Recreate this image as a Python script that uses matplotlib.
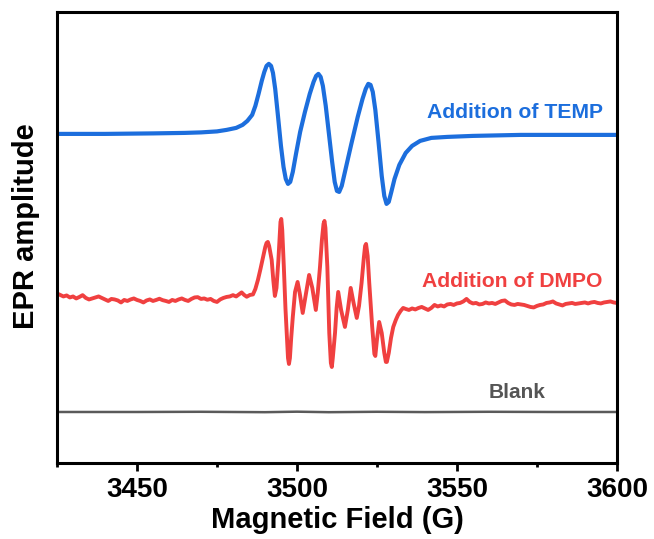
import numpy as np
import matplotlib
matplotlib.use("Agg")
import matplotlib.pyplot as plt
from matplotlib.ticker import MultipleLocator

plt.rcParams["font.family"] = ["Liberation Sans", "DejaVu Sans"]
plt.rcParams["font.weight"] = "bold"

BLUE = "#1c6edd"
RED = "#f04040"
GREY = "#5a5a5a"

# --- TEMP adduct (triplet) ---
temp_field = [3425, 3440, 3455, 3465, 3470, 3475, 3478, 3481, 3483, 3484.5,
              3486, 3487, 3488, 3489, 3489.8, 3490.5, 3491.2, 3491.9, 3492.5, 3493.2,
              3494, 3495, 3495.8, 3496.5, 3497.2, 3497.9, 3498.7, 3499.7, 3501, 3502.5,
              3504, 3505.2, 3506, 3506.7, 3507.4, 3508.1, 3509, 3510, 3511, 3511.8,
              3512.5, 3513.2, 3514, 3515, 3517, 3519, 3520.5, 3521.5, 3522.3, 3523,
              3523.7, 3524.5, 3525.5, 3526.5, 3527.3, 3528, 3528.7, 3529.5, 3530.5, 3532,
              3534, 3536, 3538.5, 3542, 3547, 3555, 3570, 3585, 3600]
temp_amp = [0, 0, 0.5, 1, 1.5, 2.5, 4, 6, 9, 13,
            19, 28, 40, 53, 62, 68, 70, 68, 61, 45,
            20, -12, -33, -45, -50, -48, -38, -20, 2, 22,
            40, 52, 58, 60, 57, 48, 28, 0, -28, -48,
            -57, -58, -52, -38, -10, 17, 35, 45, 50, 49,
            42, 24, -8, -42, -62, -70, -68, -58, -45, -31,
            -19, -12, -7, -4, -3, -2, -1, -1, -1]

# --- DMPO adducts (noisy) ---
dmpo_field = (list(range(3425, 3482)) +
              [3482.7, 3483.5, 3484.3, 3485.3, 3486.25, 3487, 3487.8, 3488.6, 3489.4, 3490.1,
               3490.5, 3490.9, 3491.3, 3492.1, 3492.6, 3493.1, 3493.6, 3494.2, 3494.6, 3494.85,
               3495.1, 3495.4, 3495.9, 3496.4, 3496.8, 3497.2, 3497.5, 3497.8, 3498.2, 3498.7,
               3499.4, 3500.2, 3500.9, 3501.8, 3502.7, 3503.8, 3504.8, 3505.9, 3506.5, 3507.2,
               3507.8, 3508.3, 3508.6, 3508.9, 3509.5, 3510.1, 3510.6, 3510.9, 3511.2, 3511.9,
               3512.4, 3512.9, 3513.8, 3515.0, 3515.9, 3516.8, 3517.7, 3518.7, 3519.4, 3520.2,
               3520.9, 3521.3, 3521.6, 3522.1, 3522.6, 3523.5, 3524.2, 3524.5, 3525.0, 3525.7,
               3526.5, 3527.3, 3527.8, 3528.1, 3528.7, 3529.4, 3530.1, 3530.9, 3531.6, 3532.4,
               3533.2] +
              list(range(3534, 3601)))
dmpo_amp = [4.5, 3.0, 1.5, 2.5, 0.5, 1.5, -0.5, 1.0, 2.8, 0.0,
            -1.5, -0.5, 0.5, 1.5, 0.0, -1.5, -3.0, -1.0, -1.5, -2.5,
            -4.5, -2.0, -3.0, -1.5, -0.5, -2.0, -3.0, -4.5, -2.5, -1.5,
            -3.0, -2.0, -0.8, -2.2, -3.0, -4.0, -2.0, -3.0, -1.5, -0.5,
            -2.0, -3.0, -1.0, 0.5, 0.8, -1.0, -0.5, -1.8, -1.0, -3.0,
            -4.0, -1.5, 0.0, 1.0, 1.5, 2.8, 1.5,
            5.5, 3.0, 1.2, 3.0, 3.5, 9, 18, 29, 41, 51,
            55, 56, 52, 38, 18, 2, 10, 38, 62, 76,
            79, 68, 31, -10, -35, -60, -66, -60, -40, -19,
            6, 16, 4, -15, 2, 23, 10, -12, 5, 31,
            58, 74, 77, 70, 31, -35, -65, -69, -60, -35,
            -10, 6, -12, -29, -12, 10, -5, -20, -8, 15,
            40, 52, 54, 42, 15, -28, -56, -58, -42, -24,
            -35, -55, -64, -64, -55, -40, -29, -22, -17, -13,
            -10,
            -11.0, -12.0, -10.5, -11.5, -10.0, -9.0, -10.5, -12.0, -10.0, -7.0,
            -8.5, -7.5, -8.5, -6.5, -6.0, -7.0, -5.5, -5.0, -3.5, -1.0,
            -4.0, -5.5, -5.0, -6.5, -6.0, -4.5, -5.5, -5.0, -6.0, -4.5,
            -3.0, -2.5, -5.0, -6.5, -7.0, -6.0, -6.5, -7.0, -8.0, -9.0,
            -9.5, -8.0, -7.0, -6.5, -5.0, -4.5, -3.5, -5.5, -6.5, -7.5,
            -6.0, -5.5, -5.0, -6.0, -5.5, -5.0, -4.5, -5.5, -4.5, -4.0,
            -5.0, -5.5, -4.5, -4.0, -3.5, -4.5, -5.0]

# --- blank ---
blank_field = [3425, 3450, 3470, 3490, 3500, 3510, 3525, 3540, 3560, 3580, 3600]
blank_amp = [0, 0, 0.2, -0.2, 0.3, -0.2, 0.2, -0.1, 0.2, 0, 0]

# vertical stacking of the traces
offset_temp = 329
offset_dmpo = 165
offset_blank = 51

fig = plt.figure(figsize=(6.54, 5.39), dpi=100)
ax = fig.add_axes([0.0872, 0.141, 0.856, 0.837])

ax.plot(temp_field, np.array(temp_amp) + offset_temp, color=BLUE, lw=3,
        solid_capstyle="round", solid_joinstyle="round")
ax.plot(dmpo_field, np.array(dmpo_amp) + offset_dmpo, color=RED, lw=2.8,
        solid_joinstyle="round")
ax.plot(blank_field, np.array(blank_amp) + offset_blank, color=GREY, lw=1.8)

ax.text(3595.6, 350, "Addition of TEMP", color=BLUE, fontsize=15.2,
        fontweight="bold", ha="right", va="center")
ax.text(3595.6, 181, "Addition of DMPO", color=RED, fontsize=15.2,
        fontweight="bold", ha="right", va="center")
ax.text(3577.8, 70, "Blank", color="#555555", fontsize=15,
        fontweight="bold", ha="right", va="center")

ax.set_xlim(3425, 3600)
ax.set_ylim(0, 451)
ax.xaxis.set_major_locator(MultipleLocator(50))
ax.xaxis.set_minor_locator(MultipleLocator(25))
ax.set_xticks([3450, 3500, 3550, 3600])
ax.set_yticks([])
ax.tick_params(axis="x", which="major", length=6, width=2, labelsize=20, pad=4)
ax.tick_params(axis="x", which="minor", length=3, width=2)
for s in ax.spines.values():
    s.set_linewidth(2.2)

ax.set_xlabel("Magnetic Field (G)", fontsize=21, fontweight="bold", labelpad=2)
ax.set_ylabel("EPR amplitude", fontsize=21, fontweight="bold")
ax.yaxis.set_label_coords(-0.03, 0.525)

fig.savefig("out.png", dpi=100)
